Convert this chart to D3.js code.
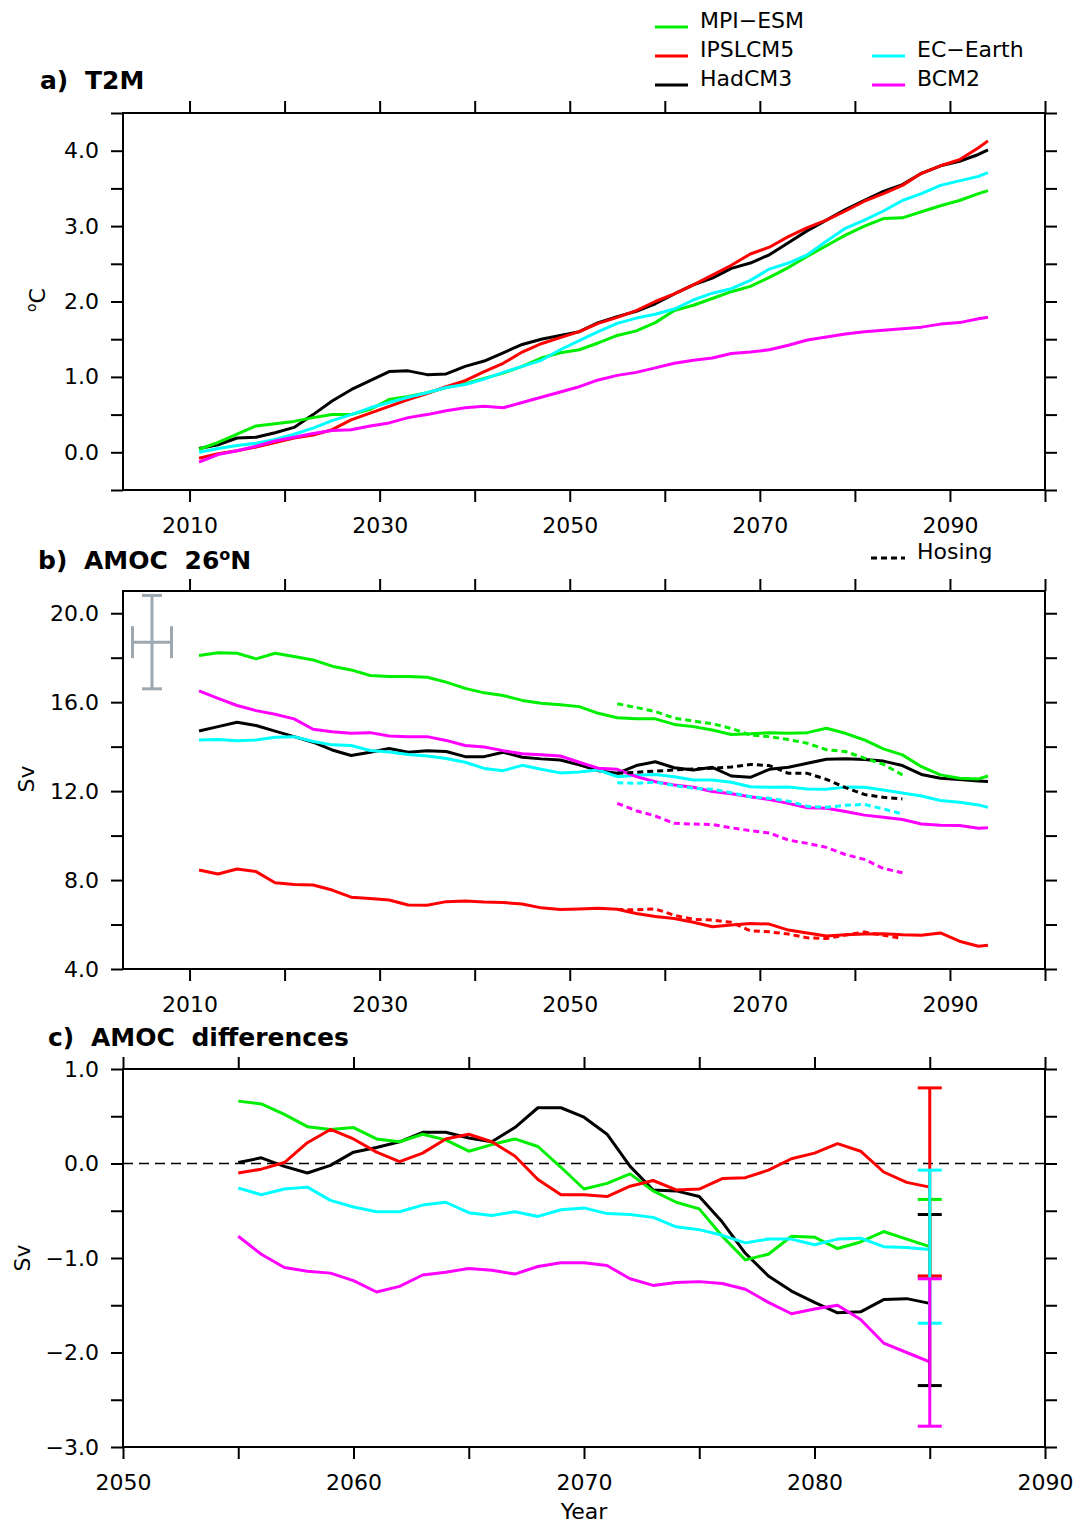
<!DOCTYPE html>
<html>
<head>
<meta charset="utf-8">
<script src="https://cdn.jsdelivr.net/npm/d3@7/dist/d3.min.js"></script>
<style>
  html, body { margin: 0; padding: 0; background: #fff; }
  svg { display: block; font-family: 'DejaVu Sans', sans-serif; }
</style>
</head>
<body>
<div id="chart"></div>
<script>
/**
 * Data
 */
// model names and colours
var models = ['MPI-ESM', 'IPSLCM5', 'HadCM3', 'EC-Earth', 'BCM2']
var modelColors = ['#00ee00', '#ff0000', '#000000', '#00ffff', '#ff00ff']

// a) and b): years of the running-mean series
var yearsAB = [2011, 2013, 2015, 2017, 2019, 2021, 2023, 2025, 2027, 2029, 2031, 2033, 2035, 2037,
  2039, 2041, 2043, 2045, 2047, 2049, 2051, 2053, 2055, 2057, 2059, 2061, 2063, 2065, 2067, 2069,
  2071, 2073, 2075, 2077, 2079, 2081, 2083, 2085, 2087, 2089, 2091, 2093, 2094]

// a) T2M, degC
var t2mMPI = [0.04, 0.13, 0.24, 0.35, 0.38, 0.41, 0.46, 0.50, 0.50, 0.57, 0.70, 0.74, 0.79, 0.86,
  0.91, 0.98, 1.05, 1.14, 1.25, 1.32, 1.36, 1.45, 1.55, 1.61, 1.72, 1.88, 1.95, 2.04, 2.13, 2.20,
  2.32, 2.45, 2.60, 2.74, 2.88, 3.00, 3.10, 3.11, 3.19, 3.27, 3.34, 3.43, 3.47]
var t2mIPSL = [-0.08, -0.02, 0.02, 0.07, 0.13, 0.19, 0.23, 0.30, 0.43, 0.52, 0.61, 0.70, 0.78, 0.87,
  0.95, 1.07, 1.18, 1.33, 1.44, 1.52, 1.60, 1.71, 1.79, 1.88, 2.00, 2.10, 2.22, 2.35, 2.48, 2.63,
  2.72, 2.86, 2.98, 3.08, 3.20, 3.33, 3.43, 3.54, 3.70, 3.80, 3.88, 4.04, 4.13]
var t2mHad = [0.05, 0.10, 0.19, 0.20, 0.26, 0.33, 0.50, 0.68, 0.83, 0.95, 1.07, 1.08, 1.03, 1.04,
  1.14, 1.21, 1.32, 1.43, 1.50, 1.55, 1.60, 1.72, 1.80, 1.87, 1.97, 2.10, 2.22, 2.31, 2.44, 2.51,
  2.62, 2.78, 2.94, 3.08, 3.22, 3.34, 3.46, 3.55, 3.70, 3.80, 3.86, 3.95, 4.01]
var t2mEC = [0.00, 0.05, 0.09, 0.12, 0.17, 0.24, 0.32, 0.42, 0.50, 0.59, 0.66, 0.73, 0.79, 0.86,
  0.90, 0.97, 1.06, 1.14, 1.22, 1.36, 1.48, 1.60, 1.71, 1.78, 1.83, 1.90, 2.02, 2.11, 2.17, 2.28,
  2.43, 2.51, 2.62, 2.80, 2.97, 3.08, 3.20, 3.34, 3.43, 3.54, 3.60, 3.66, 3.71]
var t2mBCM = [-0.13, -0.03, 0.02, 0.08, 0.15, 0.20, 0.25, 0.29, 0.30, 0.35, 0.39, 0.46, 0.50, 0.55,
  0.59, 0.61, 0.59, 0.66, 0.73, 0.80, 0.87, 0.96, 1.02, 1.06, 1.12, 1.18, 1.22, 1.25, 1.31, 1.33,
  1.36, 1.42, 1.49, 1.53, 1.57, 1.60, 1.62, 1.64, 1.66, 1.70, 1.72, 1.77, 1.79]

// b) AMOC 26N, Sv
var amocMPI = [18.10, 18.22, 18.20, 17.95, 18.20, 18.05, 17.90, 17.62, 17.45, 17.20, 17.15, 17.15,
  17.12, 16.90, 16.62, 16.42, 16.30, 16.08, 15.95, 15.88, 15.80, 15.50, 15.30, 15.25, 15.25, 15.00,
  14.90, 14.75, 14.55, 14.58, 14.63, 14.60, 14.63, 14.83, 14.60, 14.30, 13.90, 13.63, 13.10, 12.73,
  12.58, 12.55, 12.68]
var amocIPSL = [8.45, 8.27, 8.50, 8.38, 7.88, 7.80, 7.78, 7.55, 7.23, 7.17, 7.10, 6.88, 6.87, 7.03,
  7.06, 7.01, 6.99, 6.92, 6.75, 6.68, 6.70, 6.73, 6.69, 6.50, 6.36, 6.27, 6.10, 5.90, 5.98, 6.05,
  6.02, 5.75, 5.62, 5.48, 5.54, 5.57, 5.58, 5.54, 5.52, 5.62, 5.25, 5.02, 5.07]
var amocHad = [14.70, 14.90, 15.10, 14.95, 14.70, 14.45, 14.20, 13.85, 13.60, 13.75, 13.92, 13.75,
  13.82, 13.78, 13.55, 13.55, 13.75, 13.52, 13.45, 13.40, 13.18, 12.92, 12.80, 13.15, 13.32, 13.05,
  12.95, 13.07, 12.68, 12.62, 12.98, 13.07, 13.25, 13.43, 13.46, 13.42, 13.35, 13.15, 12.75, 12.58,
  12.52, 12.46, 12.43]
var amocEC = [14.30, 14.32, 14.26, 14.30, 14.42, 14.45, 14.23, 14.08, 14.05, 13.83, 13.76, 13.65,
  13.58, 13.47, 13.30, 13.02, 12.92, 13.16, 12.98, 12.82, 12.86, 12.95, 12.65, 12.71, 12.75, 12.65,
  12.50, 12.50, 12.40, 12.20, 12.17, 12.18, 12.10, 12.08, 12.18, 12.17, 12.05, 11.92, 11.78, 11.58,
  11.50, 11.38, 11.27]
var amocBCM = [16.51, 16.17, 15.85, 15.62, 15.46, 15.25, 14.78, 14.67, 14.60, 14.63, 14.48, 14.45,
  14.45, 14.28, 14.05, 13.98, 13.82, 13.68, 13.64, 13.58, 13.30, 13.03, 12.98, 12.65, 12.42, 12.28,
  12.17, 11.98, 11.88, 11.75, 11.62, 11.45, 11.25, 11.23, 11.08, 10.92, 10.82, 10.72, 10.52, 10.46,
  10.45, 10.33, 10.35]

// b) hosing experiments (dashed)
var yearsHosing = [2055, 2057, 2059, 2061, 2063, 2065, 2067, 2069, 2071, 2073, 2075, 2077, 2079, 2081, 2083, 2085]
var hosMPI = [15.93, 15.76, 15.58, 15.28, 15.15, 15.03, 14.82, 14.52, 14.45, 14.32, 14.15, 13.86, 13.78, 13.48, 13.20, 12.73]
var hosIPSL = [6.68, 6.66, 6.70, 6.42, 6.23, 6.20, 6.10, 5.72, 5.67, 5.57, 5.40, 5.37, 5.53, 5.66, 5.52, 5.37]
var hosHad = [12.80, 12.85, 12.90, 12.95, 13.00, 13.03, 13.08, 13.20, 13.15, 12.80, 12.80, 12.53, 12.16, 11.85, 11.72, 11.65]
var hosEC = [12.38, 12.35, 12.40, 12.25, 12.13, 12.08, 11.93, 11.75, 11.68, 11.55, 11.32, 11.27, 11.36, 11.40, 11.20, 10.97]
var hosBCM = [11.45, 11.12, 10.88, 10.55, 10.52, 10.50, 10.35, 10.22, 10.12, 9.80, 9.65, 9.47, 9.15, 8.93, 8.52, 8.33]

// b) grey uncertainty cross: [year, value], [+-years, +-Sv]
var crossCenter = [2006.05, 18.7]
var crossHalf = [2.05, 2.1]

// c) AMOC differences, Sv
var yearsC = [2055, 2056, 2057, 2058, 2059, 2060, 2061, 2062, 2063, 2064, 2065, 2066, 2067, 2068,
  2069, 2070, 2071, 2072, 2073, 2074, 2075, 2076, 2077, 2078, 2079, 2080, 2081, 2082, 2083, 2084, 2085]
var diffMPI = [0.66, 0.63, 0.52, 0.39, 0.36, 0.38, 0.26, 0.23, 0.31, 0.25, 0.13, 0.20, 0.26, 0.18,
  -0.04, -0.27, -0.21, -0.11, -0.29, -0.41, -0.48, -0.77, -1.02, -0.96, -0.77, -0.78, -0.90, -0.83, -0.72, -0.80, -0.88]
var diffIPSL = [-0.10, -0.06, 0.01, 0.22, 0.36, 0.26, 0.12, 0.02, 0.11, 0.26, 0.31, 0.23, 0.08, -0.17,
  -0.33, -0.33, -0.35, -0.24, -0.18, -0.28, -0.27, -0.16, -0.15, -0.07, 0.05, 0.11, 0.21, 0.13, -0.09, -0.20, -0.25]
var diffHad = [0.01, 0.06, -0.03, -0.10, -0.02, 0.12, 0.17, 0.23, 0.33, 0.33, 0.27, 0.23, 0.38, 0.59,
  0.59, 0.49, 0.31, -0.03, -0.28, -0.29, -0.35, -0.62, -0.95, -1.19, -1.35, -1.47, -1.58, -1.57, -1.44, -1.43, -1.48]
var diffEC = [-0.26, -0.33, -0.27, -0.25, -0.39, -0.46, -0.51, -0.51, -0.44, -0.41, -0.52, -0.55, -0.51, -0.56,
  -0.49, -0.47, -0.53, -0.54, -0.57, -0.67, -0.70, -0.76, -0.84, -0.80, -0.80, -0.86, -0.80, -0.79, -0.88, -0.89, -0.91]
var diffBCM = [-0.77, -0.96, -1.10, -1.14, -1.16, -1.24, -1.36, -1.30, -1.18, -1.15, -1.11, -1.13, -1.17, -1.09,
  -1.05, -1.05, -1.08, -1.22, -1.29, -1.26, -1.25, -1.27, -1.33, -1.47, -1.59, -1.54, -1.50, -1.65, -1.90, -2.00, -2.10]

// c) ranges at 2085, [low, high], in model order
var rangeYear = 2085
var rangeLow = [-1.20, -1.19, -2.35, -1.69, -2.78]
var rangeHigh = [-0.38, 0.80, -0.54, -0.07, -1.22]

/**
 *  Layout
 */
var W = 1076, H = 1523
var LEFT = 123, RIGHT = 1045
var TICK = 12
var FS = 22

var svg = d3.select('#chart').append('svg')
  .attr('width', W)
  .attr('height', H)

var xAB = d3.scaleLinear().domain([2003, 2100]).range([LEFT, RIGHT])
var yA = d3.scaleLinear().domain([-0.5, 4.5]).range([490, 113])
var yB = d3.scaleLinear().domain([4, 21]).range([969, 591])
var xC = d3.scaleLinear().domain([2050, 2090]).range([LEFT, RIGHT])
var yC = d3.scaleLinear().domain([-3, 1]).range([1447, 1069])

/**
 *  Frame with outward ticks on all four sides
 *  @param {object} x        x scale
 *  @param {object} y        y scale
 *  @param {array}  xTicks   x tick values
 *  @param {array}  xLabels  x tick values with label
 *  @param {array}  yTicks   y tick values
 *  @param {array}  yLabels  y tick values with label
 */
function drawFrame(x, y, xTicks, xLabels, yTicks, yLabels) {
  var x0 = x.range()[0], x1 = x.range()[1]
  var yb = y.range()[0], yt = y.range()[1]
  var fmtX = function(d) { return xLabels.indexOf(d) >= 0 ? d : '' }
  var fmtY = function(d) {
    return yLabels.some(function(v) { return Math.abs(v - d) < 1e-6 }) ? d3.format('.1f')(d) : ''
  }

  var axes = [
    [d3.axisBottom(x).tickValues(xTicks).tickFormat(fmtX).tickPadding(15), 'translate(0,' + yb + ')'],
    [d3.axisTop(x).tickValues(xTicks).tickFormat(''), 'translate(0,' + yt + ')'],
    [d3.axisLeft(y).tickValues(yTicks).tickFormat(fmtY).tickPadding(12), 'translate(' + x0 + ',0)'],
    [d3.axisRight(y).tickValues(yTicks).tickFormat(''), 'translate(' + x1 + ',0)']
  ]
  axes.forEach(function(a) {
    var g = svg.append('g')
      .attr('transform', a[1])
      .call(a[0].tickSize(TICK).tickSizeOuter(0))
    g.attr('font-family', null).attr('font-size', FS)
    g.select('.domain').remove()
    g.selectAll('.tick line').attr('stroke', '#000').attr('stroke-width', 2)
    g.selectAll('.tick text').attr('fill', '#000')
  })

  svg.append('rect')
    .attr('x', x0)
    .attr('y', yt)
    .attr('width', x1 - x0)
    .attr('height', yb - yt)
    .attr('fill', 'none')
    .attr('stroke', '#000')
    .attr('stroke-width', 2)
}

/**
 *  One data line
 */
function drawLine(years, values, x, y, color, dashed) {
  var line = d3.line()
    .x(function(d, i) { return x(years[i]) })
    .y(function(d) { return y(d) })
  svg.append('path')
    .datum(values)
    .attr('d', line)
    .attr('fill', 'none')
    .attr('stroke', color)
    .attr('stroke-width', 3)
    .attr('stroke-linejoin', 'round')
    .attr('stroke-dasharray', dashed ? '6,4' : null)
}

/**
 *  Panel title like "a)  T2M"
 */
function addTitle(x, y, parts) {
  var t = svg.append('text')
    .attr('x', x)
    .attr('y', y)
    .attr('font-size', 25)
    .attr('font-weight', 'bold')
    .attr('word-spacing', 8)
    .style('white-space', 'pre')
  parts.forEach(function(p) {
    var s = t.append('tspan').text(p.text)
    if (p.size) s.attr('font-size', p.size)
    if (p.dy) s.attr('dy', p.dy)
  })
}

function addYLabel(x, y, parts) {
  var t = svg.append('text')
    .attr('transform', 'translate(' + x + ',' + y + ') rotate(-90)')
    .attr('text-anchor', 'middle')
    .attr('font-size', FS)
  parts.forEach(function(p) {
    var s = t.append('tspan').text(p.text)
    if (p.size) s.attr('font-size', p.size)
    if (p.dy) s.attr('dy', p.dy)
  })
}

var xTicksAB = d3.range(2010, 2101, 10)
var xLabelsAB = [2010, 2030, 2050, 2070, 2090]

/* ---------- a) T2M ---------- */
drawFrame(xAB, yA, xTicksAB, xLabelsAB, d3.range(-0.5, 4.51, 0.5), [0, 1, 2, 3, 4])
var t2m = [t2mHad, t2mMPI, t2mIPSL, t2mEC, t2mBCM]
var order = [2, 0, 1, 3, 4]
order.forEach(function(m, k) { drawLine(yearsAB, t2m[k], xAB, yA, modelColors[m]) })
addTitle(40, 89, [{text: 'a) T2M'}])
addYLabel(45, 300, [{text: 'o', size: 14, dy: -9}, {text: 'C', dy: 9}])

/* ---------- b) AMOC 26N ---------- */
drawFrame(xAB, yB, xTicksAB, xLabelsAB, d3.range(4, 21, 2), [4, 8, 12, 16, 20])
var amoc = [amocHad, amocMPI, amocIPSL, amocEC, amocBCM]
var hos = [hosHad, hosMPI, hosIPSL, hosEC, hosBCM]
order.forEach(function(m, k) { drawLine(yearsAB, amoc[k], xAB, yB, modelColors[m]) })
order.forEach(function(m, k) { drawLine(yearsHosing, hos[k], xAB, yB, modelColors[m], true) })
addTitle(38, 569, [{text: 'b) AMOC 26'}, {text: 'o', size: 16, dy: -9}, {text: 'N', dy: 9}])
addYLabel(34, 779, [{text: 'Sv'}])

// grey uncertainty cross
var gCross = svg.append('g').attr('stroke', '#9ea8b1').attr('stroke-width', 3).attr('fill', 'none')
var cx = xAB(crossCenter[0]), cy = yB(crossCenter[1])
var cyT = yB(crossCenter[1] + crossHalf[1]), cyB = yB(crossCenter[1] - crossHalf[1])
var cxL = xAB(crossCenter[0] - crossHalf[0]), cxR = xAB(crossCenter[0] + crossHalf[0])
gCross.append('line').attr('x1', cx).attr('x2', cx).attr('y1', cyT).attr('y2', cyB)
gCross.append('line').attr('x1', cx - 10).attr('x2', cx + 10).attr('y1', cyT).attr('y2', cyT)
gCross.append('line').attr('x1', cx - 10).attr('x2', cx + 10).attr('y1', cyB).attr('y2', cyB)
gCross.append('line').attr('x1', cxL).attr('x2', cxR).attr('y1', cy).attr('y2', cy)
gCross.append('line').attr('x1', cxL).attr('x2', cxL).attr('y1', cy - 16).attr('y2', cy + 16)
gCross.append('line').attr('x1', cxR).attr('x2', cxR).attr('y1', cy - 16).attr('y2', cy + 16)

// hosing legend
svg.append('line')
  .attr('x1', 871).attr('x2', 905).attr('y1', 558).attr('y2', 558)
  .attr('stroke', '#000').attr('stroke-width', 3).attr('stroke-dasharray', '6,4')
svg.append('text').attr('x', 917).attr('y', 559).attr('font-size', FS).text('Hosing')

/* ---------- c) AMOC differences ---------- */
drawFrame(xC, yC, d3.range(2050, 2091, 5), [2050, 2060, 2070, 2080, 2090], d3.range(-3, 1.01, 0.5), [-3, -2, -1, 0, 1])
svg.append('line')
  .attr('x1', LEFT).attr('x2', RIGHT).attr('y1', yC(0)).attr('y2', yC(0))
  .attr('stroke', '#000').attr('stroke-width', 1.6).attr('stroke-dasharray', '10,6')
var diff = [diffHad, diffMPI, diffIPSL, diffEC, diffBCM]
order.forEach(function(m, k) { drawLine(yearsC, diff[k], xC, yC, modelColors[m]) })

// ranges at 2085, drawn black, green, red, cyan, magenta
var rx = xC(rangeYear)
;[2, 0, 1, 3, 4].forEach(function(m) {
  var g = svg.append('g').attr('stroke', modelColors[m]).attr('stroke-width', 3)
  var lo = yC(rangeLow[m]), hi = yC(rangeHigh[m])
  g.append('line').attr('x1', rx).attr('x2', rx).attr('y1', hi).attr('y2', lo)
  g.append('line').attr('x1', rx - 12).attr('x2', rx + 12).attr('y1', hi).attr('y2', hi)
  g.append('line').attr('x1', rx - 12).attr('x2', rx + 12).attr('y1', lo).attr('y2', lo)
})
addTitle(48, 1046, [{text: 'c) AMOC differences'}])
addYLabel(30, 1258, [{text: 'Sv'}])
svg.append('text')
  .attr('x', 584).attr('y', 1519)
  .attr('text-anchor', 'middle')
  .attr('font-size', FS)
  .text('Year')

/* ---------- legend ---------- */
var legendPos = [[655, 27], [655, 56], [655, 85], [872, 56], [872, 85]]
models.forEach(function(name, i) {
  var p = legendPos[i]
  svg.append('line')
    .attr('x1', p[0]).attr('x2', p[0] + 33).attr('y1', p[1]).attr('y2', p[1])
    .attr('stroke', modelColors[i]).attr('stroke-width', 3)
  svg.append('text')
    .attr('x', p[0] + 45).attr('y', p[1] + 1)
    .attr('font-size', FS)
    .text(name.replace('-', '\u2212'))
})
</script>
</body>
</html>
